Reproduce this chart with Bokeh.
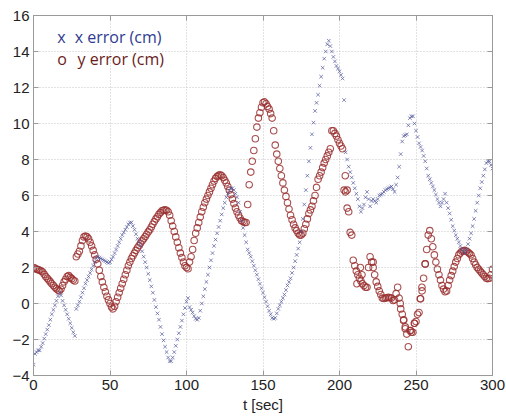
from bokeh.plotting import figure
from bokeh.models import Range1d, LinearAxis, FixedTicker, Label
from bokeh.embed import file_html
from bokeh.resources import INLINE

# sampling times (s) of the main tracks
t_main = list(range(0, 301))

# x error (cm), one value per second
x_err = [
    -3.4, -2.8, -2.7, -2.6, -2.6, -2.4, -2.2, -1.95, -1.7, -1.45,
    -1.2, -0.9, -0.6, -0.35, -0.1, 0.15, 0.4, 0.6, 0.45, 0.15,
    -0.1, -0.35, -0.6, -0.85, -1.1, -1.35, -1.6, -1.8, -0.3, -0.1,
    0.1, 0.35, 0.6, 0.85, 1.1, 1.3, 1.5, 1.7, 1.9, 2.1,
    2.3, 2.5, 2.6, 2.55, 2.5, 2.45, 2.4, 2.35, 2.3, 2.25,
    2.3, 2.45, 2.6, 2.8, 3.0, 3.2, 3.4, 3.6, 3.8, 3.95,
    4.1, 4.25, 4.4, 4.5, 4.5, 4.3, 4.1, 3.85, 3.6, 3.4,
    3.2, 2.9, 2.6, 2.3, 2.0, 1.65, 1.3, 0.95, 0.6, 0.2,
    -0.2, -0.55, -0.9, -1.3, -1.7, -2.05, -2.4, -2.7, -3.0, -3.2,
    -3.2, -3.0, -2.7, -2.35, -2.0, -1.65, -1.3, -0.95, -0.6, -0.25,
    0.1, 0.3, -0.2, -0.35, -0.5, -0.7, -0.85, -0.9, -0.8, -0.4,
    0.0, 0.4, 0.8, 1.2, 1.6, 2.0, 2.4, 2.8, 3.2, 3.55,
    3.9, 4.25, 4.6, 4.95, 5.3, 5.6, 5.9, 6.1, 6.3, 6.4,
    6.4, 6.3, 6.1, 5.9, 5.6, 5.1, 4.6, 4.2, 3.8, 3.4,
    3.0, 2.8, 2.6, 2.35, 2.1, 1.85, 1.6, 1.35, 1.1, 0.85,
    0.6, 0.35, 0.1, -0.15, -0.4, -0.6, -0.8, -0.85, -0.8, -0.55,
    -0.3, -0.1, 0.1, 0.3, 0.5, 0.75, 1.0, 1.2, 1.4, 1.7,
    2.0, 2.35, 2.7, 3.05, 3.4, 4.0, 4.7, 5.5, 6.3, 7.1,
    7.9, 8.65, 9.4, 10.05, 10.7, 11.15, 11.6, 12.1, 12.6, 13.1,
    13.6, 14.0, 14.4, 14.6, 14.3, 14.0, 13.7, 13.45, 13.2, 13.05,
    12.9, 12.7, 12.5, 11.3, 8.4, 8.0, 7.6, 7.3, 7.0, 6.7,
    6.4, 6.1, 5.8, 5.4, 5.1, 5.3, 5.5, 5.9, 6.2, 5.8,
    5.4, 5.7, 5.8, 5.7, 5.6, 5.8, 6.0, 6.05, 6.1, 6.2,
    6.3, 6.35, 6.4, 6.45, 6.5, 6.35, 6.2, 6.6, 7.0, 7.6,
    8.3, 9.0, 9.3, 9.35, 9.4, 9.9, 10.3, 10.4, 10.4, 10.0,
    9.6, 9.25, 8.9, 8.7, 8.5, 8.2, 7.9, 7.5, 7.1, 6.9,
    6.7, 6.5, 6.3, 6.05, 5.8, 5.6, 5.4, 5.6, 5.8, 6.1,
    5.6, 5.3, 5.0, 4.65, 4.3, 4.05, 3.8, 3.6, 3.4, 3.2,
    3.0, 2.9, 2.8, 3.0, 3.3, 3.6, 3.9, 4.3, 4.7, 5.15,
    5.6, 6.0, 6.4, 6.75, 7.1, 7.45, 7.8, 7.9, 7.9, 7.7,
    7.5,
]

# y error (cm), one value per second
y_err = [
    2.0, 1.95, 1.9, 1.88, 1.85, 1.8, 1.75, 1.62, 1.5, 1.4,
    1.3, 1.2, 1.1, 1.0, 0.9, 0.82, 0.75, 0.7, 0.8, 1.0,
    1.2, 1.35, 1.5, 1.55, 1.45, 1.38, 1.3, 1.25, 2.6, 2.75,
    2.9, 3.2, 3.5, 3.7, 3.75, 3.7, 3.6, 3.4, 3.2, 2.95,
    2.7, 2.45, 2.2, 1.85, 1.5, 1.2, 0.9, 0.65, 0.4, 0.2,
    0.0, -0.2, -0.3, -0.15, 0.1, 0.35, 0.6, 0.85, 1.1, 1.35,
    1.6, 1.85, 2.1, 2.3, 2.5, 2.65, 2.8, 2.95, 3.1, 3.22,
    3.35, 3.48, 3.6, 3.72, 3.85, 3.98, 4.1, 4.25, 4.4, 4.55,
    4.7, 4.82, 4.95, 5.05, 5.15, 5.18, 5.2, 5.18, 5.1, 4.9,
    4.6, 4.3, 4.0, 3.7, 3.4, 3.1, 2.8, 2.55, 2.3, 2.1,
    2.0, 1.93, 2.3, 2.6, 3.0, 3.5, 3.9, 4.2, 4.5, 4.8,
    5.1, 5.35, 5.6, 5.8, 6.0, 6.2, 6.4, 6.6, 6.8, 6.95,
    7.05, 7.12, 7.15, 7.1, 7.0, 6.85, 6.7, 6.5, 6.3, 6.05,
    5.8, 5.55, 5.3, 5.1, 4.9, 4.75, 4.6, 4.55, 4.5, 4.5,
    5.5, 6.6, 7.3, 7.9, 8.5, 9.15, 9.8, 10.3, 10.6, 10.9,
    11.15, 11.2, 11.1, 10.95, 10.8, 10.55, 10.3, 9.6, 8.8, 8.3,
    7.9, 7.5, 7.1, 6.7, 6.3, 5.95, 5.6, 5.25, 4.9, 4.65,
    4.4, 4.2, 4.05, 3.9, 3.8, 3.8, 3.9, 4.15, 4.4, 4.7,
    5.0, 5.2, 5.4, 5.7, 6.0, 6.45, 6.9, 7.1, 7.3, 7.55,
    7.8, 8.0, 8.2, 8.4, 8.6, 9.6, 9.6, 9.45, 9.3, 9.1,
    8.9, 8.75, 8.6, 6.3, 6.2, 5.3, 5.1, 3.95, 3.8, 2.4,
    2.1, 1.8, 1.6, 1.4, 1.25, 1.1, 1.0, 0.9, 0.9, 2.0,
    2.6, 2.3, 2.0, 1.6, 1.2, 0.95, 0.7, 0.5, 0.3, 0.28,
    0.3, 0.32, 0.35, 0.32, 0.3, 0.17, 0.2, 0.55, 0.9, 0.3,
    -0.3, -0.6, -0.9, -1.3, -1.7, -2.4, -1.5, -1.6, -1.6, -1.1,
    -1.0, -0.6, -0.5, 0.26, 0.7, 1.4, 2.2, 3.0, 3.8, 4.05,
    3.6, 3.15, 2.7, 2.3, 1.9, 1.6, 1.3, 1.0, 0.8, 0.65,
    0.7, 1.0, 1.3, 1.55, 1.8, 2.05, 2.3, 2.5, 2.7, 2.8,
    2.9, 2.93, 2.95, 2.9, 2.85, 2.78, 2.7, 2.5, 2.3, 2.15,
    2.0, 1.9, 1.8, 1.7, 1.6, 1.5, 1.4, 1.38, 1.4, 1.6,
    1.9,
]

# additional scattered samples (second tracks)
y_extra_t = [203.8, 205, 211.4, 213.6, 214.7, 222, 239.7, 241.9, 243,
             246.5, 249, 252.8, 253.9, 256]
y_extra_v = [7.1, 6.3, 1.1, 2.0, 1.6, 2.3, 0.0, -0.94, -1.4,
             -1.5, -1.1, 0.26, 0.9, 2.2]

x_ticks = [0, 50, 100, 150, 200, 250, 300]
y_ticks = [-4, -2, 0, 2, 4, 6, 8, 10, 12, 14, 16]
y_tick_labels = ["\u22124", "\u22122", "0", "2", "4", "6", "8", "10", "12", "14", "16"]

legend_marks = ["x", "o"]
legend_texts = ["x error (cm)", "y error (cm)"]

BLUE_MARK = "#50559a"
RED_MARK = "#9a3030"
BLUE_TEXT = "#2f3b8f"
RED_TEXT = "#6b1c1c"
FRAME = "#9a9a9a"

p = figure(width=506, height=416, output_backend="svg", toolbar_location=None,
           x_range=Range1d(0, 300), y_range=Range1d(-4, 16),
           min_border_left=33, min_border_right=14,
           min_border_top=15, min_border_bottom=41)
p.background_fill_color = "white"
p.border_fill_color = "white"
p.outline_line_color = FRAME

p.xaxis.ticker = FixedTicker(ticks=x_ticks)
p.yaxis.ticker = FixedTicker(ticks=y_ticks)
p.yaxis.major_label_overrides = {v: s for v, s in zip(y_ticks, y_tick_labels)}
p.xaxis.axis_label = "t [sec]"
p.xaxis.axis_label_text_font_style = "normal"
p.xaxis.axis_label_text_font = "Liberation Sans"
p.xaxis.axis_label_text_font_size = "15px"
p.xaxis.axis_label_text_color = "#222222"
p.xaxis.axis_label_standoff = 3

for ax in [p.xaxis[0], p.yaxis[0]]:
    ax.major_tick_in = 5
    ax.major_tick_out = 0
    ax.minor_tick_line_color = None
    ax.axis_line_color = FRAME
    ax.major_tick_line_color = FRAME
    ax.major_label_text_font = "Liberation Sans"
    ax.major_label_text_font_size = "15px"
    ax.major_label_text_color = "#222222"
    ax.major_label_standoff = 4

for loc, tk in [("right", y_ticks), ("above", x_ticks)]:
    ax = LinearAxis(ticker=FixedTicker(ticks=tk))
    ax.major_tick_in = 5
    ax.major_tick_out = 0
    ax.minor_tick_line_color = None
    ax.axis_line_color = FRAME
    ax.major_tick_line_color = FRAME
    ax.major_label_text_font_size = "1px"
    ax.major_label_text_alpha = 0
    ax.major_label_standoff = 0
    p.add_layout(ax, loc)

for g, tk in [(p.xgrid[0], x_ticks), (p.ygrid[0], y_ticks)]:
    g.ticker = FixedTicker(ticks=tk)
    g.grid_line_color = "#c4c4c4"
    g.grid_line_dash = "1 2"
    g.grid_line_width = 1

# y error circles
p.scatter(t_main, y_err, marker="circle", size=6.5, fill_color=None,
          line_color=RED_MARK, line_width=1.1, line_alpha=0.85)
p.scatter(y_extra_t, y_extra_v, marker="circle", size=6.5, fill_color=None,
          line_color=RED_MARK, line_width=1.1, line_alpha=0.85)
# x error crosses
p.scatter(t_main, x_err, marker="x", size=5, line_color=BLUE_MARK,
          line_width=1, line_alpha=0.7)

# legend
for i, (mk, txt, col) in enumerate(zip(legend_marks, legend_texts, [BLUE_TEXT, RED_TEXT])):
    yv = 14.8 - 1.2 * i
    p.add_layout(Label(x=15.5, y=yv, text=mk, text_font="Open Sans",
                       text_font_size="16px", text_color=col, text_baseline="middle"))
    p.add_layout(Label(x=26.9 + 1.9 * i, y=yv, text=txt, text_font="Open Sans",
                       text_font_size="16px", text_color=col, text_baseline="middle"))

open("out.html", "w").write(file_html(p, INLINE))
